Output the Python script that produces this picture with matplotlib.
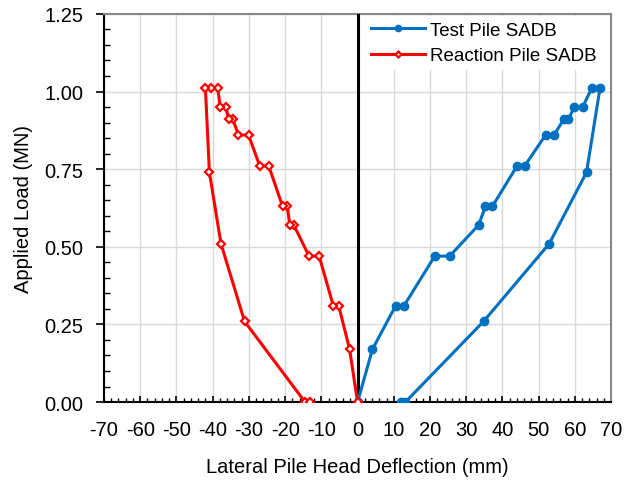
"""Curva carga x deslocamento lateral das estacas (SADB)."""
import matplotlib
matplotlib.use("Agg")
import matplotlib.pyplot as plt
from matplotlib.ticker import MultipleLocator

plt.rcParams["font.family"] = ["Liberation Sans", "DejaVu Sans"]
plt.rcParams["axes.unicode_minus"] = False

# Test pile: loading then unloading
test_defl = [0.0, 4.1, 10.5, 12.8, 21.3, 25.4, 33.4, 35.3, 37.2, 44.0, 46.1,
             51.9, 54.2, 56.9, 58.2, 59.8, 62.1, 64.6, 66.9,
             63.2, 52.9, 34.8, 13.2, 11.9]
test_load = [0.0, 0.17, 0.31, 0.31, 0.47, 0.47, 0.57, 0.63, 0.63, 0.76, 0.76,
             0.86, 0.86, 0.91, 0.91, 0.95, 0.95, 1.01, 1.01,
             0.74, 0.51, 0.26, 0.0, 0.0]

# Reaction pile: loading then unloading
reac_defl = [0.0, -2.2, -5.2, -6.7, -10.6, -13.4, -17.6, -18.7, -19.4, -20.7,
             -24.5, -27.0, -30.1, -32.9, -34.4, -35.6, -36.3, -37.9,
             -38.6, -40.4, -42.0,
             -40.9, -37.7, -31.2, -14.5, -13.1]
reac_load = [0.0, 0.17, 0.31, 0.31, 0.47, 0.47, 0.57, 0.57, 0.63, 0.63,
             0.76, 0.76, 0.86, 0.86, 0.91, 0.91, 0.95, 0.95,
             1.01, 1.01, 1.01,
             0.74, 0.51, 0.26, 0.0, 0.0]

FS = 14.5

fig = plt.figure(figsize=(6.34, 4.81), dpi=100)
ax = fig.add_axes([0.164, 0.162, 0.8, 0.807])

ax.plot(test_defl, test_load, "-o", color="#0070C0", lw=2.2, ms=6,
        label="Test Pile SADB", zorder=4)
ax.plot(reac_defl, reac_load, "-D", color="#FF0000", lw=2.2, ms=4,
        mfc="white", mew=1.6, label="Reaction Pile SADB", zorder=4)
ax.axvline(0, color="black", lw=2.2, zorder=3)

ax.set_xlim(-70, 70)
ax.set_ylim(0, 1.25)
ax.xaxis.set_major_locator(MultipleLocator(10))
ax.xaxis.set_minor_locator(MultipleLocator(2))
ax.yaxis.set_major_locator(MultipleLocator(0.25))
ax.yaxis.set_minor_locator(MultipleLocator(0.05))
ax.yaxis.set_major_formatter(lambda v, p: f"{v:.2f}")

ax.tick_params(axis="x", which="major", direction="in", length=4, width=1.2,
               labelsize=FS, pad=13)
ax.tick_params(axis="x", which="minor", direction="in", length=3, width=1)
ax.tick_params(axis="y", which="major", direction="out", length=6, width=1.2,
               labelsize=FS, pad=9)
ax.tick_params(axis="y", which="minor", direction="in", length=4, width=1)

ax.grid(True, which="major", color="#d9d9d9", lw=1)
ax.set_axisbelow(True)

for side in ("left", "bottom"):
    ax.spines[side].set_color("black")
    ax.spines[side].set_linewidth(1.5)
for side in ("top", "right"):
    ax.spines[side].set_color("#888888")
    ax.spines[side].set_linewidth(1.5)

ax.set_xlabel("Lateral Pile Head Deflection (mm)", fontsize=FS, labelpad=13)
ax.set_ylabel("Applied Load (MN)", fontsize=FS, labelpad=8)

leg = ax.legend(loc="upper right", bbox_to_anchor=(0.987, 1.0), fontsize=13.5,
                frameon=True, fancybox=False, borderaxespad=0.1,
                handlelength=2.85, handletextpad=0.3, labelspacing=0.45,
                borderpad=0.3, markerscale=0.75)
leg.get_frame().set_edgecolor("none")
leg.get_frame().set_facecolor("white")
leg.get_frame().set_alpha(1)

fig.savefig("out.png", dpi=100)
